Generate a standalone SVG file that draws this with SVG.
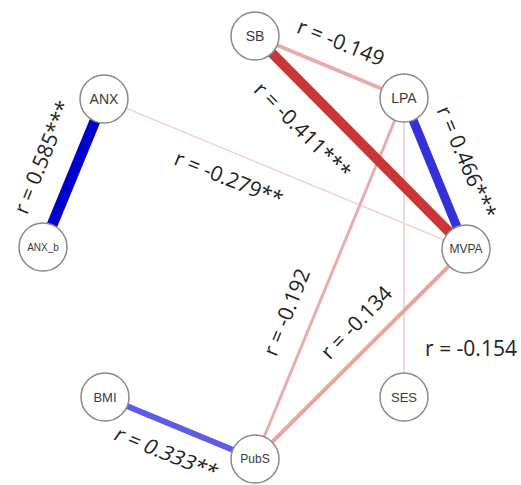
<svg xmlns="http://www.w3.org/2000/svg" width="521" height="485" viewBox="0 0 521 485">
<style>
.node circle{fill:#fff;stroke:#8a8a8a;stroke-width:1.5}
.node text{font-family:"Liberation Sans",Arial,sans-serif;fill:#3a3a3a;text-anchor:middle;dominant-baseline:central}
.lbl{font-family:"Open Sans","DejaVu Sans",sans-serif;font-size:21px;fill:#222;text-anchor:middle;dominant-baseline:central}
.edge{stroke-linecap:butt;fill:none}
</style>
<rect width="521" height="485" fill="#fff"/>
<g id="connectors">
<line class="edge" x1="104" y1="99" x2="466" y2="249" stroke="#f6d3d3" stroke-width="1.5"/>
<line class="edge" x1="404" y1="98" x2="404" y2="397" stroke="#f6d6d6" stroke-width="2"/>
<line class="edge" x1="255" y1="36" x2="404" y2="98" stroke="#ebaaaa" stroke-width="4"/>
<line class="edge" x1="404" y1="98" x2="255" y2="459" stroke="#ecacac" stroke-width="3"/>
<line class="edge" x1="466" y1="249" x2="255" y2="459" stroke="#e9a3a3" stroke-width="4"/>
<line class="edge" x1="255" y1="36" x2="466" y2="249" stroke="#cc3535" stroke-width="10"/>
<line class="edge" x1="404" y1="98" x2="466" y2="249" stroke="#3232d8" stroke-width="9"/>
<line class="edge" x1="104" y1="99" x2="43" y2="247" stroke="#0000cc" stroke-width="11"/>
<line class="edge" x1="105" y1="397" x2="255" y2="459" stroke="#5c5ce6" stroke-width="6"/>
</g>
<g id="labels">
<text class="lbl" transform="translate(341,42) rotate(22)">r = -0.149</text>
<text class="lbl" transform="translate(303,130) rotate(45)">r = -0.411***</text>
<text class="lbl" transform="translate(467,162) rotate(67)">r = 0.466***</text>
<text class="lbl" transform="translate(42,157) rotate(-68)">r = 0.585***</text>
<text class="lbl" transform="translate(229,178) rotate(22)">r = -0.279**</text>
<text class="lbl" transform="translate(286,312) rotate(-68)">r = -0.192</text>
<text class="lbl" transform="translate(356,322) rotate(-46)">r = -0.134</text>
<text class="lbl" transform="translate(471,348)">r = -0.154</text>
<text class="lbl" transform="translate(167,452) rotate(22) skewX(-12)">r = 0.333**</text>
</g>
<g id="SB" class="node"><circle cx="255" cy="36" r="24"/><text x="255" y="36" font-size="14">SB</text></g>
<g id="LPA" class="node"><circle cx="404" cy="98" r="24"/><text x="404" y="98" font-size="14">LPA</text></g>
<g id="ANX" class="node"><circle cx="104" cy="99" r="24"/><text x="104" y="99" font-size="14">ANX</text></g>
<g id="ANX_b" class="node"><circle cx="43" cy="247" r="24"/><text x="43" y="247" font-size="10">ANX_b</text></g>
<g id="MVPA" class="node"><circle cx="466" cy="249" r="24"/><text x="466" y="249" font-size="12">MVPA</text></g>
<g id="BMI" class="node"><circle cx="105" cy="397" r="24"/><text x="105" y="397" font-size="13">BMI</text></g>
<g id="PubS" class="node"><circle cx="255" cy="459" r="24"/><text x="255" y="459" font-size="12">PubS</text></g>
<g id="SES" class="node"><circle cx="404" cy="397" r="24"/><text x="404" y="397" font-size="13">SES</text></g>
</svg>
